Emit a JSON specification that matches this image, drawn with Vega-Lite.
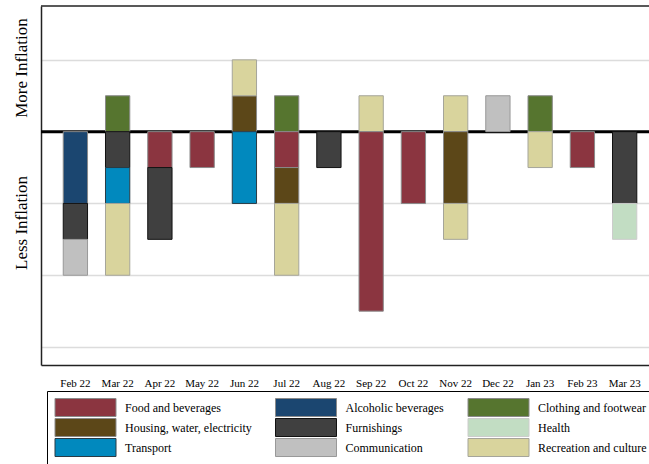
{
  "$schema": "https://vega.github.io/schema/vega-lite/v6.json",
  "width": 608,
  "height": 359,
  "autosize": {"type": "none"},
  "padding": {"left": 41, "top": 6, "right": 0, "bottom": 99},
  "config": {"view": {"stroke": null}, "font": "Liberation Serif, Times New Roman, serif"},
  "data": {"values": [
    {"month": "Feb 22", "cat": "Alcoholic beverages", "code": 2, "value": -2},
    {"month": "Feb 22", "cat": "Furnishings", "code": 5, "value": -1},
    {"month": "Feb 22", "cat": "Communication", "code": 8, "value": -1},
    {"month": "Mar 22", "cat": "Clothing and footwear", "code": 3, "value": 1},
    {"month": "Mar 22", "cat": "Furnishings", "code": 5, "value": -1},
    {"month": "Mar 22", "cat": "Transport", "code": 7, "value": -1},
    {"month": "Mar 22", "cat": "Recreation and culture", "code": 9, "value": -2},
    {"month": "Apr 22", "cat": "Food and beverages", "code": 1, "value": -1},
    {"month": "Apr 22", "cat": "Furnishings", "code": 5, "value": -2},
    {"month": "May 22", "cat": "Food and beverages", "code": 1, "value": -1},
    {"month": "Jun 22", "cat": "Housing, water, electricity", "code": 4, "value": 1},
    {"month": "Jun 22", "cat": "Recreation and culture", "code": 9, "value": 1},
    {"month": "Jun 22", "cat": "Transport", "code": 7, "value": -2},
    {"month": "Jul 22", "cat": "Clothing and footwear", "code": 3, "value": 1},
    {"month": "Jul 22", "cat": "Food and beverages", "code": 1, "value": -1},
    {"month": "Jul 22", "cat": "Housing, water, electricity", "code": 4, "value": -1},
    {"month": "Jul 22", "cat": "Recreation and culture", "code": 9, "value": -2},
    {"month": "Aug 22", "cat": "Furnishings", "code": 5, "value": -1},
    {"month": "Sep 22", "cat": "Recreation and culture", "code": 9, "value": 1},
    {"month": "Sep 22", "cat": "Food and beverages", "code": 1, "value": -5},
    {"month": "Oct 22", "cat": "Food and beverages", "code": 1, "value": -2},
    {"month": "Nov 22", "cat": "Recreation and culture", "code": 9, "value": 1},
    {"month": "Nov 22", "cat": "Housing, water, electricity", "code": 4, "value": -2},
    {"month": "Nov 22", "cat": "Recreation and culture", "code": 9, "value": -1},
    {"month": "Dec 22", "cat": "Communication", "code": 8, "value": 1},
    {"month": "Jan 23", "cat": "Clothing and footwear", "code": 3, "value": 1},
    {"month": "Jan 23", "cat": "Recreation and culture", "code": 9, "value": -1},
    {"month": "Feb 23", "cat": "Food and beverages", "code": 1, "value": -1},
    {"month": "Mar 23", "cat": "Furnishings", "code": 5, "value": -2},
    {"month": "Mar 23", "cat": "Health", "code": 6, "value": -1}
  ]},
  "layer": [
    {
      "data": {"values": [{"level": 0}]},
      "mark": {"type": "rule", "color": "#000000", "strokeWidth": 3},
      "encoding": {
        "y": {
          "field": "level", "type": "quantitative",
          "scale": {"domain": [-6.5, 3.5], "nice": false, "zero": false},
          "axis": {
            "orient": "left", "title": "Less Inflation", "titleX": -15, "titleY": 216.5,
            "titleAngle": 270, "titleAlign": "center", "titleBaseline": "alphabetic",
            "titleFont": "Liberation Serif, Times New Roman, serif", "titleFontSize": 17, "titleFontWeight": "normal", "titleColor": "#000000",
            "domain": false, "labels": false, "ticks": false, "grid": false
          }
        }
      }
    },
    {
      "data": {"values": [{"level": 3.5}]},
      "mark": {"type": "rule", "color": "#222222", "strokeWidth": 1.5},
      "encoding": {
        "y": {
          "field": "level", "type": "quantitative",
          "scale": {"domain": [-6.5, 3.5], "nice": false, "zero": false},
          "axis": null
        }
      }
    },
    {
      "mark": {"type": "bar", "strokeWidth": 1},
      "encoding": {
        "x": {
          "field": "month", "type": "ordinal",
          "sort": ["Feb 22", "Mar 22", "Apr 22", "May 22", "Jun 22", "Jul 22", "Aug 22", "Sep 22", "Oct 22", "Nov 22", "Dec 22", "Jan 23", "Feb 23", "Mar 23"],
          "scale": {"paddingInner": 0.425, "paddingOuter": 0.4075, "align": 0.646},
          "axis": {
            "orient": "bottom", "title": null, "ticks": false, "labelAngle": 0,
            "labelFont": "Liberation Serif, Times New Roman, serif", "labelFontSize": 11, "labelColor": "#000000", "labelPadding": 12,
            "domain": true, "domainColor": "#222222", "domainWidth": 1.5, "grid": false
          }
        },
        "y": {
          "field": "value", "type": "quantitative", "stack": "zero",
          "scale": {"domain": [-6.5, 3.5], "nice": false, "zero": false},
          "axis": {
            "orient": "left", "title": "More Inflation", "titleX": -15, "titleY": 61.5,
            "titleAngle": 270, "titleAlign": "center", "titleBaseline": "alphabetic",
            "titleFont": "Liberation Serif, Times New Roman, serif", "titleFontSize": 17, "titleFontWeight": "normal", "titleColor": "#000000",
            "labels": false, "ticks": false, "domain": true, "domainColor": "#222222", "domainWidth": 1.5,
            "grid": true, "values": [-6, -4, -2, 2], "gridColor": "#dcdcdc", "gridWidth": 1.5
          }
        },
        "color": {
          "field": "cat", "type": "nominal",
          "scale": {
            "domain": ["Food and beverages", "Alcoholic beverages", "Clothing and footwear", "Housing, water, electricity", "Furnishings", "Health", "Transport", "Communication", "Recreation and culture"],
            "range": ["#8b3540", "#1b4670", "#56752f", "#5c4718", "#404040", "#c2ddc3", "#0189be", "#c0c0c0", "#d9d49d"]
          },
          "legend": {
            "orient": "none", "legendX": 6, "legendY": 385, "columns": 3, "direction": "horizontal", "title": null,
            "symbolType": "M-1,-1.8H11.2V1.8H-1Z", "symbolSize": 100, "symbolStrokeWidth": 1, "symbolOpacity": 1,
            "labelFont": "Liberation Serif, Times New Roman, serif", "labelFontSize": 12, "labelColor": "#000000", "labelOffset": 59, "labelLimit": 250,
            "clipHeight": 19, "columnPadding": 22.5, "rowPadding": 1, "padding": 7, "strokeColor": "#000000"
          }
        },
        "stroke": {
          "field": "cat", "type": "nominal",
          "scale": {
            "domain": ["Food and beverages", "Alcoholic beverages", "Clothing and footwear", "Housing, water, electricity", "Furnishings", "Health", "Transport", "Communication", "Recreation and culture"],
            "range": ["#8a8a8a", "#8a8a8a", "#8a8a8a", "#8a8a8a", "#111111", "#cccccc", "#2a3a44", "#999999", "#a5a59a"]
          },
          "legend": {
            "orient": "none", "legendX": 6, "legendY": 385, "columns": 3, "direction": "horizontal", "title": null,
            "symbolType": "M-1,-1.8H11.2V1.8H-1Z", "symbolSize": 100, "symbolStrokeWidth": 1, "symbolOpacity": 1,
            "labelFont": "Liberation Serif, Times New Roman, serif", "labelFontSize": 12, "labelColor": "#000000", "labelOffset": 59, "labelLimit": 250,
            "clipHeight": 19, "columnPadding": 22.5, "rowPadding": 1, "padding": 7, "strokeColor": "#000000"
          }
        },
        "order": {"field": "code", "type": "quantitative", "sort": "ascending"}
      }
    }
  ],
  "resolve": {"scale": {"y": "independent"}, "axis": {"y": "independent"}}
}
